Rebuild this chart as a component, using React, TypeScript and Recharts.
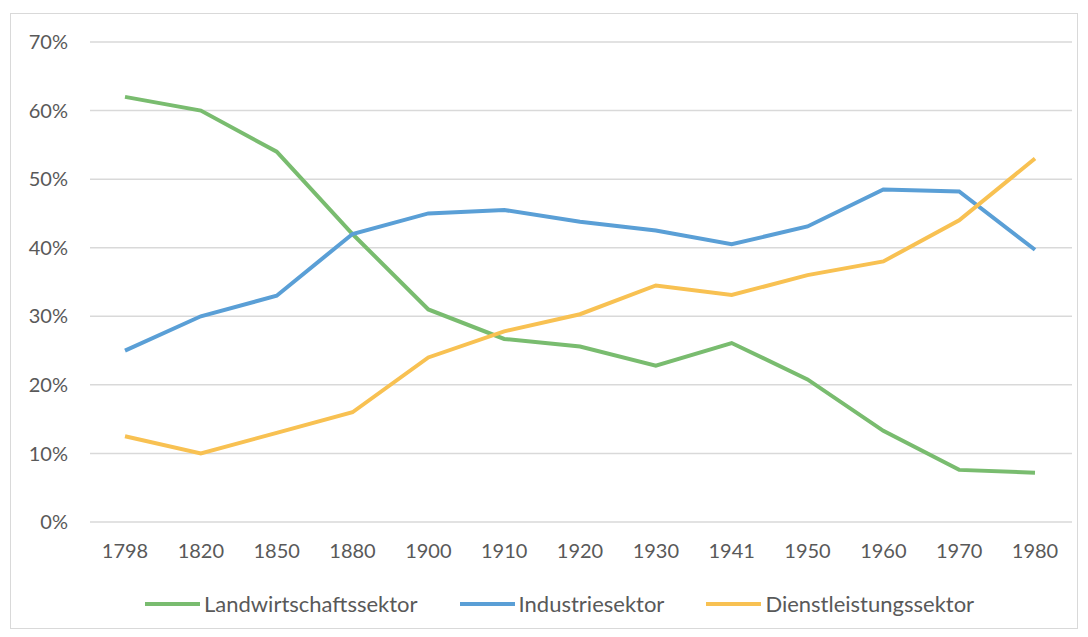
import React from 'react';
import { LineChart, Line, XAxis, YAxis, CartesianGrid, Legend } from 'recharts';

const years = ['1798', '1820', '1850', '1880', '1900', '1910', '1920', '1930', '1941', '1950', '1960', '1970', '1980'];
const landwirtschaft = [62, 60, 54, 42, 31, 26.7, 25.6, 22.8, 26.1, 20.8, 13.3, 7.6, 7.2];
const industrie = [25, 30, 33, 42, 45, 45.5, 43.8, 42.5, 40.5, 43.1, 48.5, 48.2, 39.7];
const dienstleistung = [12.5, 10, 13, 16, 24, 27.8, 30.3, 34.5, 33.1, 36, 38, 44, 53];
const yTicks = [0, 10, 20, 30, 40, 50, 60, 70];

const series = [
  { key: 'landwirtschaft', name: 'Landwirtschaftssektor', color: '#79bc6f' },
  { key: 'industrie', name: 'Industriesektor', color: '#5a9fd6' },
  { key: 'dienstleistung', name: 'Dienstleistungssektor', color: '#f8c152' },
];

const data = years.map((year, i) => ({
  year,
  landwirtschaft: landwirtschaft[i],
  industrie: industrie[i],
  dienstleistung: dienstleistung[i],
}));

const font = 'Lato, "Open Sans", sans-serif';
const textColor = '#595959';

// fixed order legend, recharts reorders its payload
const LegendContent = () => (
  <div style={{ display: 'flex', justifyContent: 'flex-start', paddingTop: 8, paddingLeft: 134, fontFamily: font, fontSize: 22, color: textColor }}>
    {series.map((s) => (
      <div key={s.key} style={{ display: 'flex', alignItems: 'center', marginRight: 42 }}>
        <span style={{ display: 'inline-block', width: 55, height: 4, background: s.color, marginRight: 4 }} />
        <span>{s.name}</span>
      </div>
    ))}
  </div>
);

export default function App() {
  return (
    <div style={{ marginLeft: 2, marginTop: 5, width: 1066, height: 614, border: '1px solid #d9d9d9', background: '#fff' }}>
      <LineChart width={1066} height={614} data={data} margin={{ top: 28, right: 5, left: 0, bottom: 0 }}>
        <CartesianGrid vertical={false} stroke="#d9d9d9" strokeWidth={1.5} />
        <XAxis
          dataKey="year"
          height={60}
          padding={{ left: 35, right: 37 }}
          axisLine={false}
          tickLine={false}
          tickMargin={16}
          interval={0}
          tick={{ fill: textColor, fontSize: 20, fontFamily: font }}
        />
        <YAxis
          width={79}
          domain={[0, 70]}
          ticks={yTicks}
          tickFormatter={(v) => `${v}%`}
          axisLine={false}
          tickLine={false}
          tickSize={0}
          tickMargin={22}
          tick={{ fill: textColor, fontSize: 20, fontFamily: font }}
        />
        <Legend verticalAlign="bottom" height={46} content={<LegendContent />} />
        {series.map((s) => (
          <Line
            key={s.key}
            type="linear"
            dataKey={s.key}
            name={s.name}
            stroke={s.color}
            strokeWidth={4}
            dot={false}
            isAnimationActive={false}
          />
        ))}
      </LineChart>
    </div>
  );
}
